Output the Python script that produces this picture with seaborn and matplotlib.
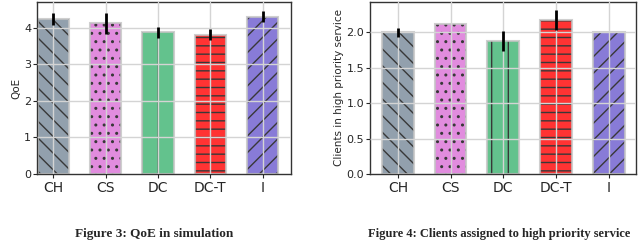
import numpy as np
import pandas as pd
import matplotlib
matplotlib.use("Agg")
import matplotlib.pyplot as plt
import seaborn as sns

sns.set_style("whitegrid")

methods = ["CH", "CS", "DC", "DC-T", "I"]
qoe = [4.24, 4.13, 3.88, 3.81, 4.30]
qoe_err = [0.17, 0.29, 0.15, 0.15, 0.15]
clients = [2.00, 2.12, 1.88, 2.17, 2.00]
clients_err = [0.06, 0.0, 0.14, 0.14, 0.0]

colors = ["lightslategray", "orchid", "mediumseagreen", "red", "slateblue"]
hatches = ["\\\\", "..", "|", "--", "//"]


def bar_panel(ax, vals, errs, ylabel, yticks, ylim, xlim):
    df = pd.DataFrame({"method": methods, "val": vals})
    sns.barplot(data=df, x="method", y="val", hue="method", palette=colors,
                saturation=1, errorbar=None, width=0.6, alpha=0.8,
                legend=False, ax=ax, edgecolor="#c4c4c4", linewidth=1.5)
    for p, h in zip(ax.patches, hatches):
        p.set_hatch(h)
        p._hatch_color = (0.22, 0.22, 0.22, 1)
    ax.errorbar(np.arange(len(methods)), vals, yerr=errs, fmt="none",
                ecolor="black", elinewidth=2, capsize=0, zorder=5)
    ax.set_axisbelow(False)
    ax.grid(True, color="#d4d4d4", linewidth=1)
    ax.set_ylim(*ylim)
    ax.set_xlim(*xlim)
    ax.set_yticks(yticks)
    ax.set_xlabel("")
    ax.set_ylabel(ylabel, fontsize=7.5, labelpad=2)
    ax.tick_params(axis="y", labelsize=8, length=3, pad=1, left=True)
    ax.tick_params(axis="x", labelsize=10, length=3, pad=2, bottom=True)
    for s in ax.spines.values():
        s.set_color("#333333")
        s.set_linewidth(1)


fig = plt.figure(figsize=(6.4, 2.42), dpi=100)
ax1 = fig.add_axes([0.0573, 0.281, 0.398, 0.711])
ax2 = fig.add_axes([0.578, 0.281, 0.416, 0.711])

bar_panel(ax1, qoe, qoe_err, "QoE", [0, 1, 2, 3, 4], (0, 4.71), (-0.32, 4.55))
bar_panel(ax2, clients, clients_err, "Clients in high priority service",
          [0, 0.5, 1.0, 1.5, 2.0], (0, 2.43), (-0.53, 4.52))
ax2.set_yticklabels(["0.0", "0.5", "1.0", "1.5", "2.0"])

fig.text(0.241, 0.02, "Figure 3: QoE in simulation", ha="center",
         family="Liberation Serif", weight="bold", fontsize=9.5)
fig.text(0.78, 0.02, "Figure 4: Clients assigned to high priority service",
         ha="center", family="Liberation Serif", weight="bold", fontsize=9)

fig.savefig("out.png", dpi=100)
